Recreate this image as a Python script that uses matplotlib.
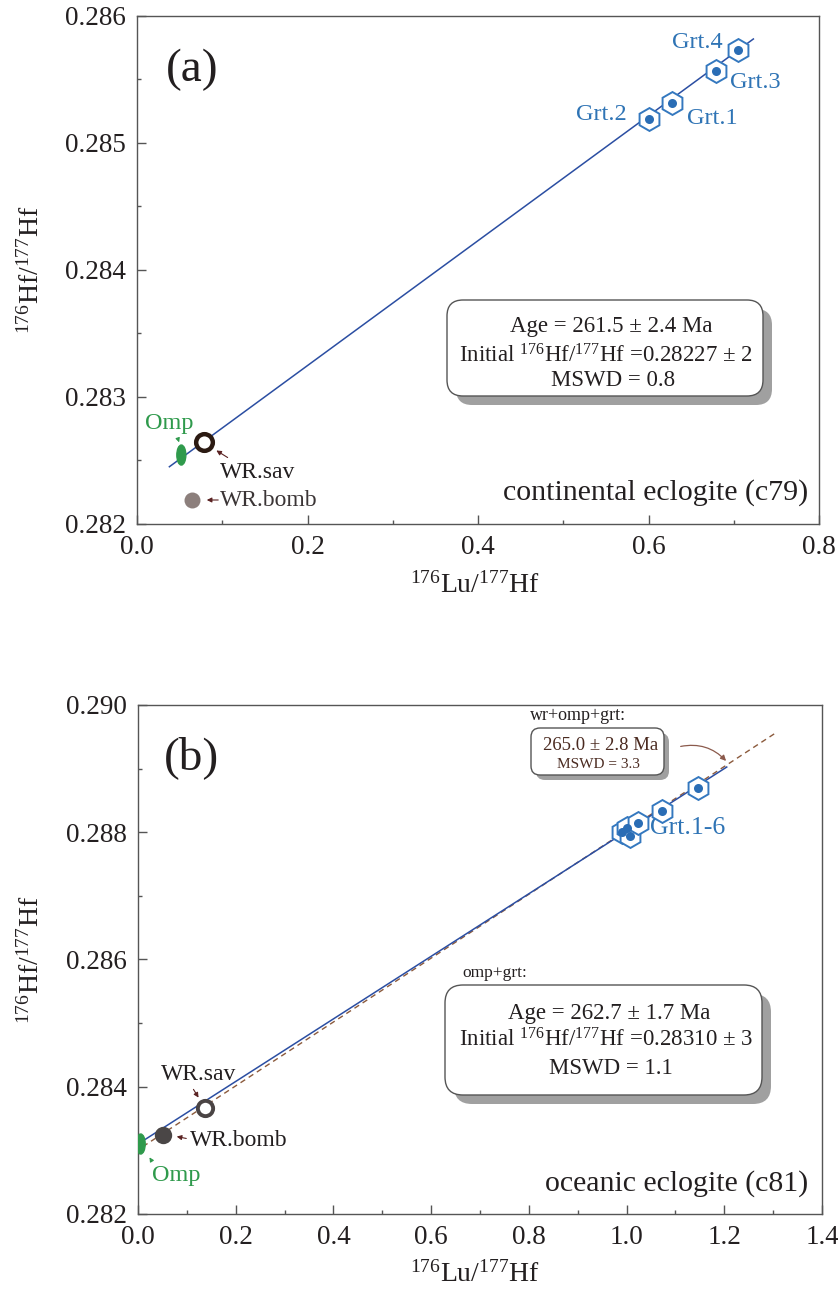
import matplotlib
matplotlib.use("Agg")
import matplotlib.pyplot as plt
from matplotlib.ticker import MultipleLocator, FormatStrFormatter
from matplotlib.patches import Ellipse, FancyBboxPatch
from matplotlib.transforms import IdentityTransform

plt.rcParams['font.family'] = ['Liberation Serif', 'DejaVu Serif']
plt.rcParams['mathtext.fontset'] = 'custom'
plt.rcParams['mathtext.rm'] = 'Liberation Serif'
plt.rcParams['mathtext.it'] = 'Liberation Serif:italic'
plt.rcParams['mathtext.bf'] = 'Liberation Serif:bold'

# ---------------- data: panel (a) continental eclogite c79 ----------------
a_grt_names = ["Grt.2", "Grt.1", "Grt.3", "Grt.4"]
a_grt_lu = [0.601, 0.628, 0.679, 0.705]
a_grt_hf = [0.285189, 0.285317, 0.285567, 0.285732]
a_omp_lu, a_omp_hf = 0.052, 0.282543
a_wrsav_lu, a_wrsav_hf = 0.0786, 0.282643
a_wrbomb_lu, a_wrbomb_hf = 0.065, 0.282189
a_iso_lu = [0.038, 0.723]
a_iso_hf = [0.282451, 0.285819]

# ---------------- data: panel (b) oceanic eclogite c81 ----------------
b_grt_lu = [0.990, 1.001, 1.007, 1.024, 1.072, 1.147]
b_grt_hf = [0.287999, 0.288071, 0.287941, 0.288150, 0.288334, 0.288700]
b_omp_lu, b_omp_hf = 0.0055, 0.28310
b_wrsav_lu, b_wrsav_hf = 0.137, 0.283671
b_wrbomb_lu, b_wrbomb_hf = 0.0505, 0.283237
b_iso_lu = [0.010, 1.205]
b_iso_hf = [0.283149, 0.289025]
b_iso2_lu = [0.010, 1.304]
b_iso2_hf = [0.283060, 0.289555]

W, H = 838, 1293
fig = plt.figure(figsize=(W / 100, H / 100), dpi=100)

BLUE_LINE = '#2b4ea2'
BLUE = '#3478bf'
BLUE_TXT = '#2f74b5'
GREEN = '#2f9a4c'
TXT = '#231f20'
ARROW = '#5a2222'

def add_ax(l, t, r, b):
    return fig.add_axes([l / W, 1 - b / H, (r - l) / W, (b - t) / H])

ax1 = add_ax(137, 16, 819, 524)
ax2 = add_ax(138, 705, 822, 1214)

def style(ax, xlim, ylim, ymaj, ymin):
    ax.set_xlim(*xlim)
    ax.set_ylim(*ylim)
    ax.xaxis.set_major_locator(MultipleLocator(0.2))
    ax.xaxis.set_minor_locator(MultipleLocator(0.1))
    ax.yaxis.set_major_locator(MultipleLocator(ymaj))
    ax.yaxis.set_minor_locator(MultipleLocator(ymin))
    ax.xaxis.set_major_formatter(FormatStrFormatter('%.1f'))
    ax.yaxis.set_major_formatter(FormatStrFormatter('%.3f'))
    ax.tick_params(which='major', direction='in', length=6.5, width=1,
                   labelsize=19.5, pad=8, color='#555555', labelcolor=TXT)
    ax.tick_params(which='minor', direction='in', length=3, width=1, color='#555555')
    for s in ax.spines.values():
        s.set_color('#555555')
        s.set_linewidth(1)

style(ax1, (0, 0.8), (0.282, 0.286), 0.001, 0.0005)
style(ax2, (0, 1.4), (0.282, 0.290), 0.002, 0.001)

def pa(px, py):
    return ((px - 137) / 852.5, 0.286 - (py - 16) / 127000)

def pb(px, py):
    return ((px - 138) / 488.6, 0.290 - (py - 705) / 63625)

def hexes(ax, xs, ys):
    ax.plot(xs, ys, linestyle='none', marker='h', markersize=16.5,
            mfc='white', mec=BLUE, mew=1.4, zorder=5)
    ax.plot(xs, ys, linestyle='none', marker='o', markersize=6.5,
            mfc='#2a6db5', mec='none', zorder=6)

# ---------------- panel (a) ----------------
ax1.plot(a_iso_lu, a_iso_hf, color=BLUE_LINE, lw=1.1, zorder=3)
hexes(ax1, a_grt_lu, a_grt_hf)
ax1.add_patch(Ellipse((a_omp_lu, a_omp_hf), 9 / 852.5, 20 / 127000,
                      color=GREEN, zorder=5))
ax1.plot([a_wrsav_lu], [a_wrsav_hf], 'o', ms=12, mfc='white', mec='#2b1a12', mew=3.2, zorder=6)
ax1.plot([a_wrbomb_lu], [a_wrbomb_hf], 'o', ms=11.5, mfc='#8c7f7c', mec='none', zorder=6)

grt_lab_pos = {"Grt.2": (601, 114), "Grt.1": (712, 118), "Grt.3": (755, 82), "Grt.4": (697, 42)}
for n in a_grt_names:
    ax1.text(*pa(*grt_lab_pos[n]), n, color=BLUE_TXT, fontsize=17.5, ha='center', va='center')
ax1.text(*pa(192, 70), "(a)", fontsize=34, ha='center', va='center', color=TXT)
ax1.text(*pa(808, 493), "continental eclogite (c79)", fontsize=21.5, ha='right', va='center', color=TXT)

ax1.text(*pa(169, 423), "Omp", color=GREEN, fontsize=17.5, ha='center', va='center')
ax1.annotate("", xy=pa(180, 445), xytext=pa(177, 436),
             arrowprops=dict(arrowstyle='-|>', color=GREEN, lw=0.8, mutation_scale=6))
ax1.text(*pa(220, 472), "WR.sav", color=TXT, fontsize=17, ha='left', va='center')
ax1.annotate("", xy=pa(214, 449), xytext=pa(230, 459),
             arrowprops=dict(arrowstyle='-|>', color=ARROW, lw=0.8, mutation_scale=7))
ax1.text(*pa(220, 500), "WR.bomb", color='#3b3536', fontsize=17, ha='left', va='center')
ax1.annotate("", xy=pa(204, 500), xytext=pa(221, 500),
             arrowprops=dict(arrowstyle='-|>', color=ARROW, lw=0.8, mutation_scale=7))

# ---------------- panel (b) ----------------
ax2.plot(b_iso2_lu, b_iso2_hf, color='#8b5a3c', lw=1.0, ls=(0, (4, 3)), zorder=3)
ax2.plot(b_iso_lu, b_iso_hf, color=BLUE_LINE, lw=1.1, zorder=3)
hexes(ax2, b_grt_lu, b_grt_hf)
ax2.add_patch(Ellipse((b_omp_lu, b_omp_hf), 9 / 488.6, 20 / 63625,
                      color=GREEN, zorder=5))
ax2.plot([b_wrsav_lu], [b_wrsav_hf], 'o', ms=11, mfc='white', mec='#4a4444', mew=2.8, zorder=6)
ax2.plot([b_wrbomb_lu], [b_wrbomb_hf], 'o', ms=12.5, mfc='#4a4646', mec='none', zorder=6)

ax2.text(*pb(192, 758), "(b)", fontsize=34, ha='center', va='center', color=TXT)
ax2.text(*pb(808, 1184), "oceanic eclogite (c81)", fontsize=21.5, ha='right', va='center', color=TXT)
ax2.text(*pb(650, 828), "Grt.1-6", color=BLUE_TXT, fontsize=18.5, ha='left', va='center')

ax2.text(*pb(199, 1075), "WR.sav", color=TXT, fontsize=17, ha='center', va='center')
ax2.annotate("", xy=pb(200, 1100), xytext=pb(192, 1087),
             arrowprops=dict(arrowstyle='-|>', color=ARROW, lw=0.8, mutation_scale=7))
ax2.text(*pb(190, 1140), "WR.bomb", color=TXT, fontsize=17, ha='left', va='center')
ax2.annotate("", xy=pb(174, 1136), xytext=pb(189, 1139),
             arrowprops=dict(arrowstyle='-|>', color=ARROW, lw=0.8, mutation_scale=7))
ax2.text(*pb(176, 1175), "Omp", color=GREEN, fontsize=17.5, ha='center', va='center')
ax2.annotate("", xy=pb(148, 1155), xytext=pb(153, 1163),
             arrowprops=dict(arrowstyle='-|>', color=GREEN, lw=0.8, mutation_scale=6))

ax2.annotate("", xy=pb(728, 763), xytext=pb(678, 747),
             arrowprops=dict(arrowstyle='-|>', color='#8b5a4c', lw=0.9, mutation_scale=8,
                             connectionstyle='arc3,rad=-0.3'))

# ---------------- boxes (pixel coordinates) ----------------
def box(x0, y0, x1, y1, sh, r):
    w, h = x1 - x0, y1 - y0
    shadow = FancyBboxPatch((x0 + sh, H - y1 - sh), w, h,
                            boxstyle=f"round,pad=0,rounding_size={r}",
                            transform=IdentityTransform(), fc='#a0a0a0', ec='none', zorder=1)
    main = FancyBboxPatch((x0, H - y1), w, h,
                          boxstyle=f"round,pad=0,rounding_size={r}",
                          transform=IdentityTransform(), fc='white', ec='#555555', lw=1, zorder=2)
    fig.patches.extend([shadow, main])

def ftext(px, py, s, **kw):
    fig.text(px / W, 1 - py / H, s, **kw)

box(447, 300, 763, 396, 9, 16)
ftext(611, 326, "Age = 261.5 ± 2.4 Ma", fontsize=16.5, ha='center', va='center', color=TXT, zorder=3)
ftext(606, 356, r"Initial $^{176}$Hf/$^{177}$Hf =0.28227 ± 2", fontsize=16.5, ha='center', va='center', color=TXT, zorder=3)
ftext(613, 381, "MSWD = 0.8", fontsize=16.5, ha='center', va='center', color=TXT, zorder=3)

box(445, 985, 762, 1095, 9, 18)
ftext(462, 973, "omp+grt:", fontsize=12.5, ha='left', va='center', color=TXT, zorder=3)
ftext(609, 1013, "Age = 262.7 ± 1.7 Ma", fontsize=16.5, ha='center', va='center', color=TXT, zorder=3)
ftext(606, 1040, r"Initial $^{176}$Hf/$^{177}$Hf =0.28310 ± 3", fontsize=16.5, ha='center', va='center', color=TXT, zorder=3)
ftext(611, 1068, "MSWD = 1.1", fontsize=16.5, ha='center', va='center', color=TXT, zorder=3)

box(531, 728, 664, 775, 5, 9)
ftext(530, 715, "wr+omp+grt:", fontsize=13, ha='left', va='center', color=TXT, zorder=3)
ftext(601, 745, "265.0 ± 2.8 Ma", fontsize=13.5, ha='center', va='center', color='#4a2a20', zorder=3)
ftext(598, 765, "MSWD = 3.3", fontsize=11, ha='center', va='center', color='#4a2a20', zorder=3)

# ---------------- axis labels ----------------
ylab = r"$^{176}$Hf/$^{177}$Hf"
xlab = r"$^{176}$Lu/$^{177}$Hf"
ftext(31, 270, ylab, fontsize=20, rotation=90, ha='center', va='center', color=TXT)
ftext(475, 585, xlab, fontsize=20, ha='center', va='center', color=TXT)
ftext(31, 960, ylab, fontsize=20, rotation=90, ha='center', va='center', color=TXT)
ftext(475, 1274, xlab, fontsize=20, ha='center', va='center', color=TXT)

fig.savefig("out.png", dpi=100)
